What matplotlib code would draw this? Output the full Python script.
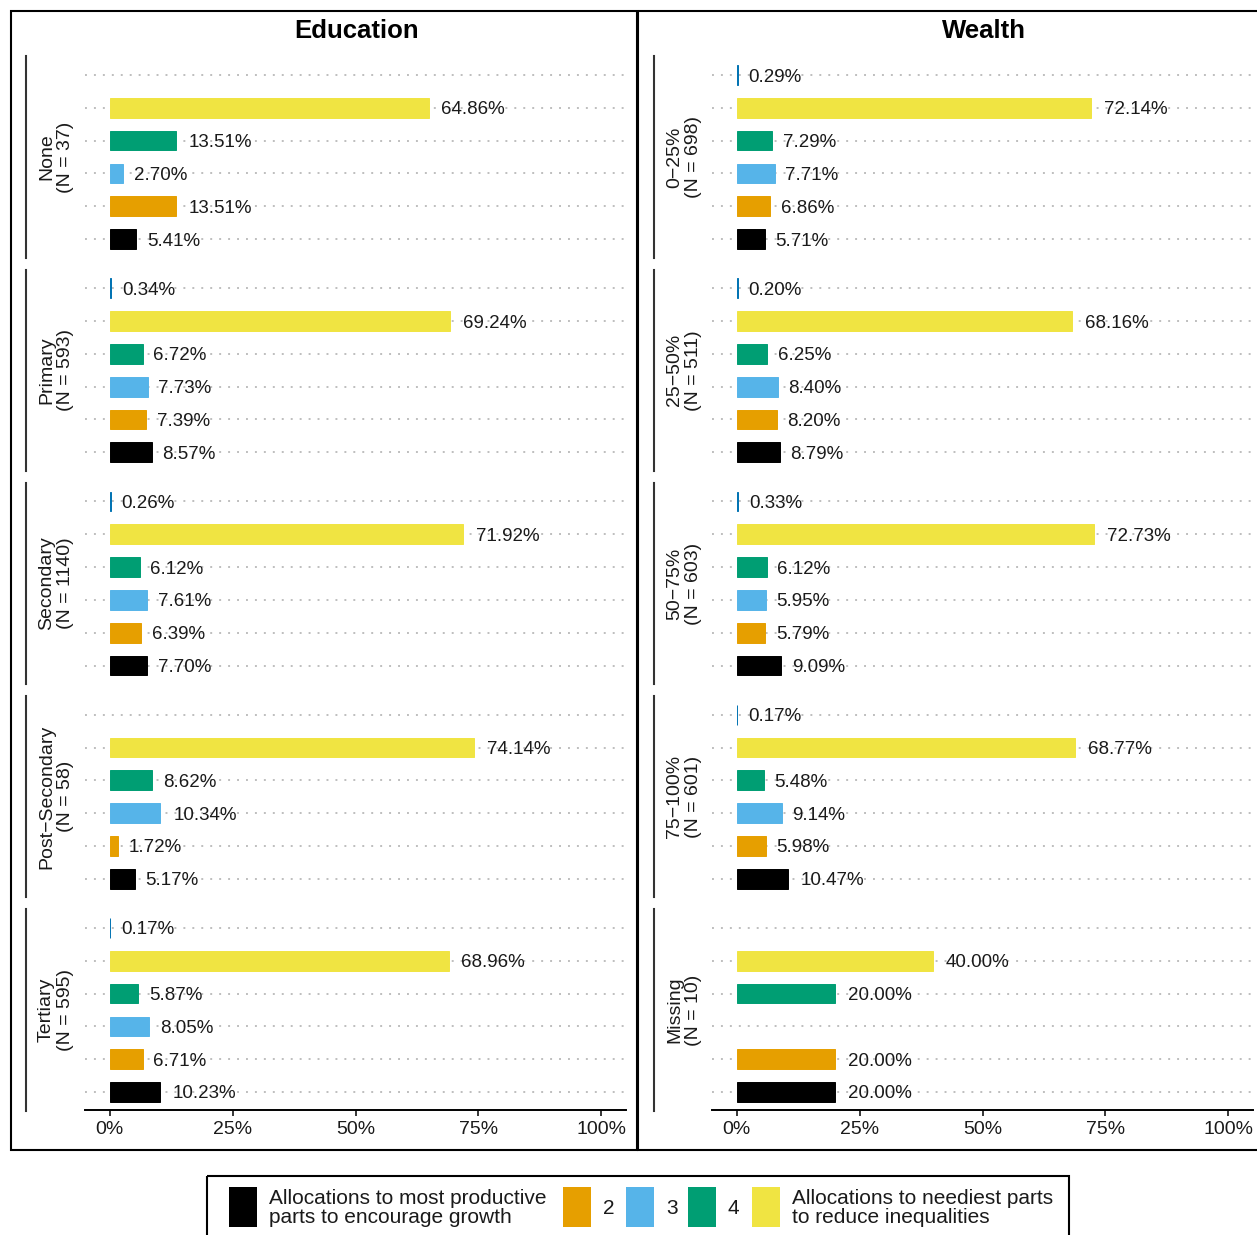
import matplotlib
matplotlib.use("Agg")
import matplotlib.pyplot as plt
from matplotlib import transforms
from matplotlib.patches import Rectangle
from matplotlib.ticker import FuncFormatter

plt.rcParams["font.family"] = ["Liberation Sans", "DejaVu Sans"]

# ---------------------------------------------------------------- data
# Shares (%) of respondents per allocation answer, one value per group.
# Row order inside each group, top to bottom: other, 5, 4, 3, 2, 1.
edu_groups = ["None", "Primary", "Secondary", "Post\u2212Secondary", "Tertiary"]
edu_n = [37, 593, 1140, 58, 595]
edu_other = [None, 0.34, 0.26, None, 0.17]
edu_s5 = [64.86, 69.24, 71.92, 74.14, 68.96]
edu_s4 = [13.51, 6.72, 6.12, 8.62, 5.87]
edu_s3 = [2.70, 7.73, 7.61, 10.34, 8.05]
edu_s2 = [13.51, 7.39, 6.39, 1.72, 6.71]
edu_s1 = [5.41, 8.57, 7.70, 5.17, 10.23]

wealth_groups = ["0\u221225%", "25\u221250%", "50\u221275%", "75\u2212100%", "Missing"]
wealth_n = [698, 511, 603, 601, 10]
wealth_other = [0.29, 0.20, 0.33, 0.17, None]
wealth_s5 = [72.14, 68.16, 72.73, 68.77, 40.00]
wealth_s4 = [7.29, 6.25, 6.12, 5.48, 20.00]
wealth_s3 = [7.71, 8.40, 5.95, 9.14, None]
wealth_s2 = [6.86, 8.20, 5.79, 5.98, 20.00]
wealth_s1 = [5.71, 8.79, 9.09, 10.47, 20.00]

legend_labels = ["Allocations to most productive\nparts to encourage growth",
                 "2", "3", "4",
                 "Allocations to neediest parts\nto reduce inequalities"]

# ---------------------------------------------------------------- style
C_OTHER = "#0072B2"
C1, C2, C3, C4, C5 = "#000000", "#E69F00", "#56B4E9", "#009E73", "#F0E442"
row_colors = [C_OTHER, C5, C4, C3, C2, C1]
legend_colors = [C1, C2, C3, C4, C5]

W, H, DPI = 1257, 1235, 100
GROUP_STEP = 6.5          # rows per facet incl. gap
BAR_H = 0.6
LABEL_FS = 13.5
TICK_FS = 14
STRIP_FS = 14

fig = plt.figure(figsize=(W / DPI, H / DPI), dpi=DPI)

# pixel overlay for frames, strips and legend
ov = fig.add_axes([0, 0, 1, 1], zorder=-1)
ov.set_xlim(0, W)
ov.set_ylim(H, 0)
ov.axis("off")
ov.patch.set_alpha(0)


def px_axes(x0, y0, x1, y1):
    return fig.add_axes([x0 / W, 1 - y1 / H, (x1 - x0) / W, (y1 - y0) / H])


labels_to_shift = []


def draw_panel(ax, groups, ns, series, strip_x, title, title_x):
    n_groups = len(groups)
    positions = []
    for g in range(n_groups):
        for r, (vals, col) in enumerate(zip(series, row_colors)):
            pos = g * GROUP_STEP + r
            positions.append(pos)
            v = vals[g]
            if v is None:
                continue
            ax.barh(pos, v / 100, height=BAR_H, color=col, edgecolor=col,
                    linewidth=0.7, zorder=2)
            t = ax.annotate(f"{v:.2f}%", (v / 100, pos), xytext=(0, 0),
                            textcoords="offset points", ha="left",
                            va="center_baseline",
                            fontsize=LABEL_FS, color="#1a1a1a", zorder=3)
            labels_to_shift.append(t)

    last = (n_groups - 1) * GROUP_STEP + 5
    ax.set_ylim(last + 0.55, -0.55)
    ax.set_xlim(-0.05, 1.05)
    ax.set_yticks(positions)
    ax.set_yticklabels([])
    ax.tick_params(axis="y", length=0)
    ax.grid(axis="y", linestyle=(0, (1, 3.6)), linewidth=1.4, color="#BEBEBE")
    ax.set_axisbelow(True)
    ax.set_xticks([0, 0.25, 0.5, 0.75, 1.0])
    ax.xaxis.set_major_formatter(FuncFormatter(lambda x, _: f"{x * 100:.0f}%"))
    ax.tick_params(axis="x", length=4, width=1.1, color="black",
                   labelsize=TICK_FS, pad=4, labelcolor="#1a1a1a")
    for s in ("top", "right", "left"):
        ax.spines[s].set_visible(False)
    ax.spines["bottom"].set_linewidth(1.4)
    ax.spines["bottom"].set_color("black")
    ax.patch.set_alpha(0)

    # facet strips on the left: bracket line + two-line label
    tr = transforms.blended_transform_factory(ov.transData, ax.transData)
    for g in range(n_groups):
        top = g * GROUP_STEP - 0.57
        bot = g * GROUP_STEP + 5.57
        ov.plot([strip_x, strip_x], [top, bot], transform=tr, color="#333333",
                linewidth=1.5, clip_on=False)
        ov.text(strip_x + 30, g * GROUP_STEP + 2.5, f"{groups[g]}\n(N = {ns[g]})",
                transform=tr, rotation=90, ha="center", va="center",
                multialignment="center", fontsize=STRIP_FS, color="#1a1a1a",
                linespacing=1.15)

    ov.text(title_x, 31, title, ha="center", va="center", fontsize=18.5,
            fontweight="bold", color="black")


ax_edu = px_axes(85, 57, 626, 1110)
ax_wealth = px_axes(712, 57, 1253, 1110)

draw_panel(ax_edu, edu_groups, edu_n,
           [edu_other, edu_s5, edu_s4, edu_s3, edu_s2, edu_s1],
           26, "Education", 356.5)
draw_panel(ax_wealth, wealth_groups, wealth_n,
           [wealth_other, wealth_s5, wealth_s4, wealth_s3, wealth_s2, wealth_s1],
           654, "Wealth", 983.5)

# panel frames
ov.add_patch(Rectangle((11, 11), 626, 1139, fill=False, edgecolor="black",
                       linewidth=1.5, clip_on=False))
ov.add_patch(Rectangle((638, 11), 626, 1139, fill=False, edgecolor="black",
                       linewidth=1.5, clip_on=False))

# legend
ov.add_patch(Rectangle((207, 1176), 862, 64, fill=False, edgecolor="black",
                       linewidth=1.5, clip_on=False))
key_x = [229, 563, 626, 688, 752]
for kx, col, lab in zip(key_x, legend_colors, legend_labels):
    ov.add_patch(Rectangle((kx, 1187), 28, 40, facecolor=col, edgecolor="none"))
    ov.text(kx + 40, 1208, lab, ha="left", va="center", fontsize=15,
            color="#1a1a1a", linespacing=1.05)

# value labels sit right of the bar end, offset by a fifth of their width
fig.canvas.draw()
renderer = fig.canvas.get_renderer()
for t in labels_to_shift:
    w = t.get_window_extent(renderer).width
    t.xyann = (0.2 * w * 72 / DPI, 0)

fig.savefig("out.png", dpi=DPI)
